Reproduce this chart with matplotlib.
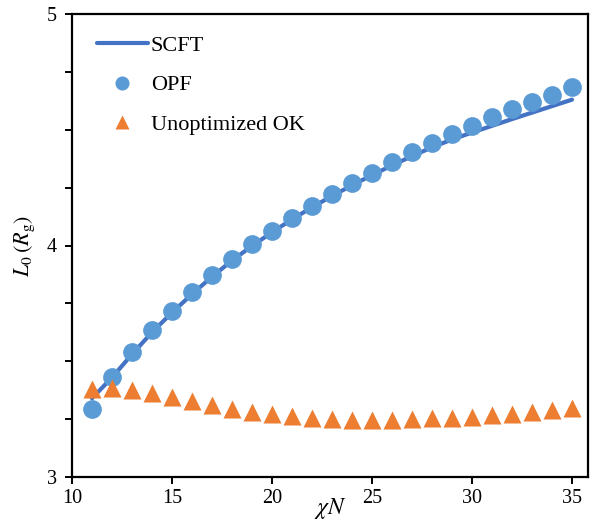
import matplotlib
matplotlib.use("Agg")
import matplotlib.pyplot as plt
import numpy as np
from matplotlib.ticker import MultipleLocator

plt.rcParams['font.family'] = ['Liberation Serif', 'DejaVu Serif']
plt.rcParams['mathtext.fontset'] = 'stix'

chiN = list(range(11, 36))
scft = [3.34, 3.43, 3.53, 3.625, 3.71, 3.79, 3.865, 3.935, 3.998, 4.057, 4.113, 4.165,
        4.214, 4.26, 4.304, 4.346, 4.386, 4.424, 4.458, 4.488, 4.517, 4.546, 4.574,
        4.602, 4.63]
opf = [3.294, 3.432, 3.54, 3.635, 3.717, 3.80, 3.873, 3.942, 4.006, 4.063, 4.119, 4.171,
       4.222, 4.27, 4.313, 4.36, 4.404, 4.443, 4.482, 4.516, 4.555, 4.59, 4.62, 4.65, 4.685]
unopt = [3.38, 3.383, 3.374, 3.363, 3.345, 3.327, 3.311, 3.294, 3.282, 3.271, 3.262, 3.254,
         3.25, 3.247, 3.247, 3.248, 3.25, 3.253, 3.256, 3.261, 3.267, 3.274, 3.282, 3.289, 3.297]

fig = plt.figure(figsize=(5.92, 5.21), dpi=100)
ax = fig.add_axes([72/592, 44/521, 516/592, 463/521])

ax.plot(chiN, scft, color='#4472C4', lw=3, solid_capstyle='round', label='SCFT', zorder=2)
ax.plot(chiN, opf, 'o', color='#5B9BD5', ms=13.5, mec='none', label='OPF', zorder=3)
ax.plot(chiN, unopt, '^', color='#ED7D31', ms=13.5, mec='none', label='Unoptimized OK', zorder=3)

ax.set_xlim(10, 35.8)
ax.set_ylim(3, 5)
ax.xaxis.set_major_locator(MultipleLocator(5))
ax.yaxis.set_major_locator(MultipleLocator(1))
ax.yaxis.set_minor_locator(MultipleLocator(0.25))
ax.tick_params(axis='both', which='both', direction='out', length=5, width=1.4, labelsize=14.5)
ax.tick_params(axis='y', pad=6)
for s in ax.spines.values():
    s.set_linewidth(1.6)

ax.set_xlabel(r'$\chi N$', fontsize=17)
ax.xaxis.set_label_coords(0.5, -0.04)
ax.set_ylabel(r'$L_0\,(R_\mathrm{g})$', fontsize=16)
ax.yaxis.set_label_coords(-0.068, 0.5)

leg = ax.legend(loc='upper left', bbox_to_anchor=(0.0475, 0.954), frameon=False, fontsize=16,
                handlelength=2.3, handletextpad=0.15, labelspacing=0.85, markerscale=0.75,
                borderaxespad=0, borderpad=0)

fig.savefig('out.png', dpi=100)
